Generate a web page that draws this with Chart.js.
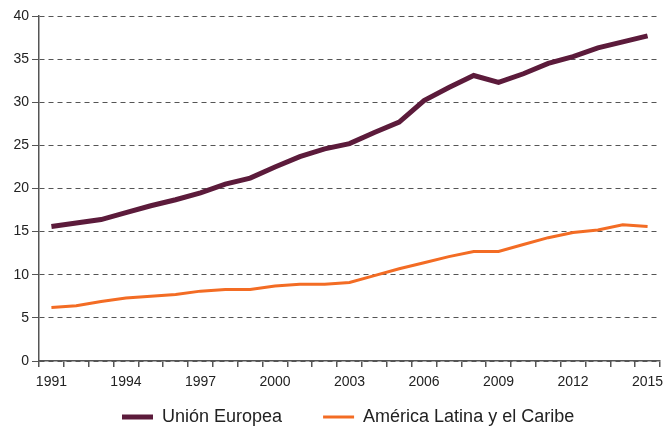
<!DOCTYPE html>
<html>
<head>
<meta charset="utf-8">
<script src="https://cdn.jsdelivr.net/npm/chart.js@4"></script>
<style>
  html, body { margin: 0; background: #fff; }
  #wrap { width: 666px; height: 427px; }
</style>
</head>
<body>
<div id="wrap"><canvas id="chart"></canvas></div>
<script>
const years = ['1991','1992','1993','1994','1995','1996','1997','1998','1999','2000','2001','2002','2003',
  '2004','2005','2006','2007','2008','2009','2010','2011','2012','2013','2014','2015'];
const unionEuropea = [15.6, 16.0, 16.4, 17.2, 18.0, 18.7, 19.5, 20.5, 21.2, 22.5, 23.7, 24.6, 25.2,
  26.5, 27.7, 30.2, 31.7, 33.1, 32.3, 33.3, 34.5, 35.3, 36.3, 37.0, 37.7];
const americaLatina = [6.2, 6.4, 6.9, 7.3, 7.5, 7.7, 8.1, 8.3, 8.3, 8.7, 8.9, 8.9, 9.1,
  9.9, 10.7, 11.4, 12.1, 12.7, 12.7, 13.5, 14.3, 14.9, 15.2, 15.8, 15.6];
const seriesNames = ['Unión Europea', 'América Latina y el Caribe'];
const yTicks = [0, 5, 10, 15, 20, 25, 30, 35, 40];

const palette = {
  eu: '#5c1b3b',
  lac: '#f36c24',
  axis: '#555555',
  text: '#222222'
};
const fontFamily = "'Liberation Sans', Arial, sans-serif";

// legend drawn by hand so the gap between the two entries can match
const bottomLegend = {
  id: 'bottomLegend',
  afterDraw(chart) {
    const ctx = chart.ctx;
    const y = 417;
    let x = 122;
    ctx.save();
    ctx.font = '18px ' + fontFamily;
    ctx.textBaseline = 'middle';
    ctx.fillStyle = palette.text;
    chart.data.datasets.forEach(ds => {
      ctx.strokeStyle = ds.borderColor;
      ctx.lineWidth = ds.borderWidth;
      ctx.beginPath();
      ctx.moveTo(x, y);
      ctx.lineTo(x + 31, y);
      ctx.stroke();
      ctx.fillText(ds.label, x + 40, y);
      x += 40 + ctx.measureText(ds.label).width + 41;
    });
    ctx.restore();
  }
};

new Chart(document.getElementById('chart'), {
  type: 'line',
  data: {
    labels: years,
    datasets: [{
      label: seriesNames[0],
      data: unionEuropea,
      borderColor: palette.eu,
      borderWidth: 5,
      pointRadius: 0,
      tension: 0,
      fill: false
    }, {
      label: seriesNames[1],
      data: americaLatina,
      borderColor: palette.lac,
      borderWidth: 3,
      pointRadius: 0,
      tension: 0,
      fill: false
    }]
  },
  options: {
    responsive: true,
    maintainAspectRatio: false,
    animation: false,
    layout: { padding: { top: 16, right: 6, left: 0, bottom: 0 } },
    plugins: {
      legend: { display: false },
      tooltip: { enabled: false }
    },
    scales: {
      x: {
        offset: true,
        grid: {
          offset: true,
          drawOnChartArea: false,
          drawTicks: true,
          tickLength: 6,
          color: palette.axis,
          lineWidth: 1.5
        },
        border: { display: true, color: palette.axis, width: 1.5 },
        ticks: {
          autoSkip: false,
          maxRotation: 0,
          padding: 7,
          color: palette.text,
          font: { family: fontFamily, size: 14 },
          callback: (v, i) => i % 3 === 0 ? years[i] : ''
        },
        afterFit: s => {
          s.height = 66;
          s.paddingLeft = 0;
          s.paddingRight = 0;
        }
      },
      y: {
        min: yTicks[0],
        max: yTicks[yTicks.length - 1],
        afterBuildTicks: s => { s.ticks = yTicks.map(v => ({ value: v })); },
        grid: {
          color: palette.axis,
          lineWidth: 1,
          tickLength: 7,
          tickBorderDash: []
        },
        border: { display: true, color: palette.axis, width: 1.5, dash: [5, 4] },
        ticks: {
          padding: 3,
          color: palette.text,
          font: { family: fontFamily, size: 14 }
        },
        afterFit: s => { s.width = 39; }
      }
    }
  },
  plugins: [bottomLegend]
});
</script>
</body>
</html>
